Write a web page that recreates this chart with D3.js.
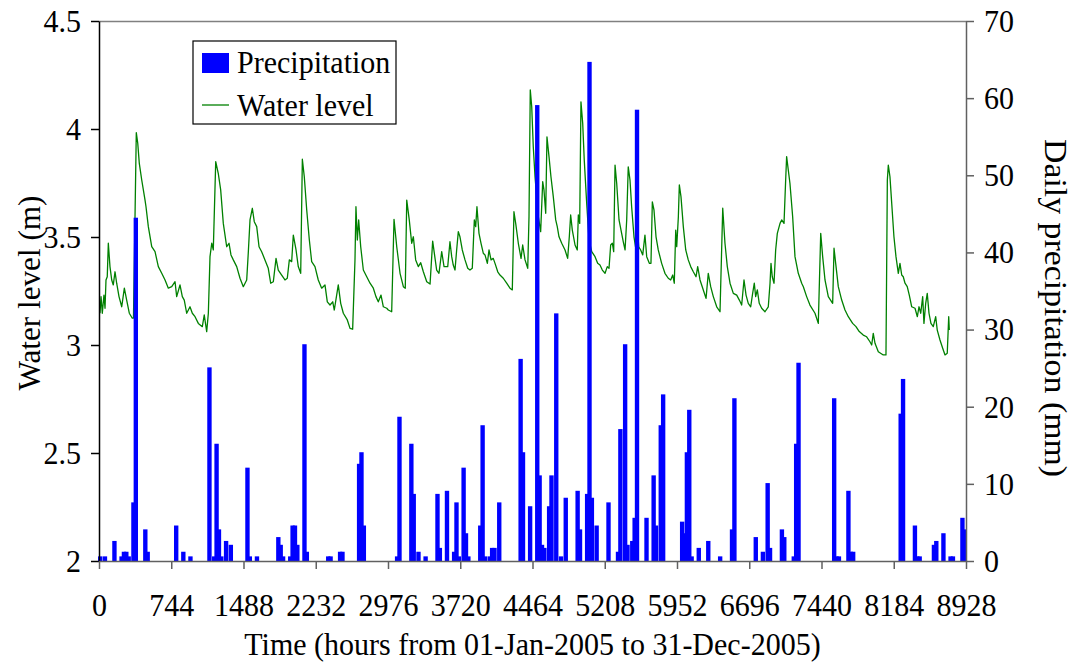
<!DOCTYPE html>
<html>
<head>
<meta charset="utf-8">
<script src="https://cdn.jsdelivr.net/npm/d3@7"></script>
<style>
  body { margin: 0; background: #fff; }
  text { font-family: "Liberation Serif", "Times New Roman", serif; fill: #000; }
</style>
</head>
<body>
<svg id="chart" width="1079" height="664"></svg>
<script>
// Hourly water level (m): sampled vertices of the 2005 record
const hours = [
  10,21,34,51,62,72,85,96,113,131,147,165,182,206,234,261,285,312,343,355,
  384,399,415,440,474,484,508,543,577,611,646,680,714,749,783,800,834,858,878,903,
  937,961,989,1023,1064,1084,1109,1126,1143,1161,1177,1202,1228,1253,1280,1315,1339,1359,1383,1418,
  1452,1486,1521,1537,1555,1579,1599,1624,1648,1675,1709,1743,1768,
  1795,1823,1846,1881,1915,1939,1960,1984,2001,2029,2052,2077,2094,2114,2139,2166,2190,2224,2258,2293,
  2327,2351,2379,2407,2423,2464,2489,2516,2557,2585,2612,2636,2646,2660,2674,2695,2722,2757,2791,2825,
  2852,2876,2904,2928,2963,2979,3014,3038,3066,3100,3134,3154,3169,3195,3220,3237,3261,3288,3313,3340,
  3375,3409,3436,3453,3477,3501,3529,3553,
  3591,3614,3632,3648,3666,3683,3700,3717,3741,3769,3797,3820,3844,3865,3879,3892,3913,3934,3957,3975,
  3999,4016,4037,4060,4078,4106,4129,4163,4198,4232,4256,4273,4291,4318,4346,4363,4387,4415,4428,4441,
  4456,4472,4490,4507,4524,4548,4569,4582,4600,4613,4634,4654,4678,4703,4719,4737,4765,4799,4826,4843,
  4857,4874,4902,4925,4936,4950,4963,4981,4997,5022,5046,5074,5108,5135,5159,5183,5211,5234,5252,5269,
  5286,5300,5314,5331,5355,5382,5399,5417,5434,5450,5468,5485,5509,5530,5543,5558,5578,5599,5622,5640,
  5667,5684,5698,5715,5736,5759,5794,5828,5862,5887,5908,5924,5939,5949,5966,5976,5993,6017,6042,6068,
  6093,6120,6148,6165,6189,6217,6251,6274,6299,6326,6361,6395,6423,6446,6470,6498,6532,6567,6594,6618,
  6642,6663,6686,6711,6731,6748,6762,6779,6799,6824,6858,6892,6910,6920,6933,6951,6968,6985,7013,7030,
  7054,7071,7081,7098,7115,7143,7167,7201,7236,7253,7287,7321,7373,7407,7432,7452,7476,7510,7555,7569,
  7586,7613,7648,7682,7716,7761,7795,7829,7870,7905,7939,7957,7973,7991,8025,8076,8104,8118,8128,8145,
  8163,8186,8207,8231,8248,8266,8282,8300,8323,8344,8369,8403,8427,8444,8462,8482,8495,8513,8529,8547,
  8567,8591,8616,8632,8660,8688,8712,8735,8750,8756
];
const waterLevel = [
  3.147,3.224,3.147,3.231,3.170,3.301,3.316,3.471,3.363,3.301,3.278,3.339,3.286,3.224,3.177,3.263,3.208,3.147,3.124,3.125,
  3.983,3.934,3.841,3.764,3.671,3.640,3.548,3.455,3.432,3.363,3.332,3.301,3.263,3.270,3.293,3.224,3.278,3.224,3.208,3.147,
  3.177,3.147,3.131,3.100,3.085,3.139,3.062,3.147,3.409,3.471,3.440,3.849,3.795,3.718,3.563,3.455,3.471,3.417,3.394,3.363,
  3.309,3.270,3.301,3.425,3.579,3.633,3.571,3.548,3.455,3.432,3.394,3.355,3.286,
  3.293,3.401,3.347,3.324,3.301,3.309,3.394,3.386,3.509,3.440,3.363,3.332,3.860,3.779,3.625,3.486,3.386,3.363,3.301,3.263,
  3.278,3.200,3.185,3.200,3.162,3.278,3.193,3.147,3.116,3.077,3.073,3.394,3.640,3.486,3.579,3.455,3.347,3.316,3.286,3.263,
  3.224,3.200,3.231,3.177,3.170,3.162,3.154,3.582,3.455,3.332,3.270,3.263,3.671,3.579,3.471,3.501,3.394,3.363,3.381,3.339,
  3.293,3.282,3.481,3.425,3.347,3.332,3.432,3.363,
  3.363,3.478,3.409,3.370,3.347,3.440,3.525,3.501,3.440,3.394,3.355,3.347,3.355,3.579,3.548,3.640,3.517,3.471,3.425,3.417,
  3.378,3.440,3.394,3.401,3.378,3.339,3.324,3.309,3.286,3.263,3.255,3.617,3.563,3.471,3.401,3.463,3.394,3.355,3.594,4.181,
  4.103,3.918,3.779,3.687,3.594,3.525,3.756,3.718,3.610,3.964,3.872,3.779,3.687,3.579,3.548,3.501,3.471,3.440,3.401,3.501,
  3.602,3.532,3.463,3.440,3.602,3.563,4.126,4.026,3.856,3.656,3.486,3.432,3.409,3.378,3.370,3.347,3.332,3.363,3.355,3.463,
  3.471,3.432,3.833,3.749,3.579,3.517,3.478,3.440,3.579,3.825,3.764,3.640,3.501,3.440,3.548,3.455,3.440,3.417,3.509,3.409,
  3.378,3.378,3.663,3.625,3.501,3.440,3.378,3.332,3.309,3.301,3.324,3.286,3.532,3.455,3.594,3.741,3.687,3.548,3.440,3.394,
  3.363,3.339,3.316,3.363,3.301,3.263,3.216,3.332,3.270,3.224,3.177,3.154,3.633,3.471,3.363,3.286,3.239,3.231,3.208,3.185,
  3.301,3.231,3.193,3.177,3.239,3.286,3.224,3.255,3.193,3.170,3.154,3.177,3.286,3.378,3.316,3.286,3.440,3.517,3.563,3.579,
  3.563,3.764,3.872,3.810,3.749,3.594,3.409,3.332,3.286,3.270,3.224,3.185,3.147,3.100,3.517,3.409,3.301,3.224,3.193,3.448,
  3.378,3.270,3.208,3.162,3.131,3.100,3.085,3.062,3.046,3.038,3.015,3.000,3.054,3.008,2.969,2.954,2.954,3.764,3.833,3.779,
  3.656,3.501,3.409,3.332,3.378,3.324,3.316,3.286,3.270,3.231,3.177,3.170,3.131,3.177,3.147,3.224,3.100,3.193,3.239,3.147,
  3.100,3.085,3.131,3.069,3.023,2.985,2.954,2.962,3.131,3.069
];

// Daily precipitation (mm): day of year (0-based) and amount, dry days omitted
const rainDay = [
  0,2,6,9,10,11,12,14,15,19,20,32,35,38,46,48,49,50,51,53,55,62,63,66,75,76,77,80,81,82,
  83,86,87,96,97,101,102,109,110,111,125,126,131,132,134,137,142,143,146,149,150,151,153,154,155,160,161,162,164,165,
  166,168,177,178,181,184,185,186,187,189,190,192,194,196,201,202,205,206,207,209,214,218,219,221,222,224,225,226,230,233,
  234,236,237,245,246,247,248,249,252,256,261,266,267,276,279,281,282,287,288,292,293,294,309,310,311,315,316,317,337,338,
  343,344,345,351,352,355,358,359,363,364
];
const rainMm = [
  0.6,0.6,2.6,0.6,1.2,1.2,0.6,7.6,44.5,4.1,1.2,4.6,1.2,0.6,25.1,0.6,15.2,4.1,0.6,2.6,2.1,12.1,0.6,0.6,3.1,2.1,0.6,0.6,4.6,4.6,
  2.1,28.1,1.2,0.6,0.6,1.2,1.2,12.6,14.1,4.6,0.6,18.7,15.2,8.7,1.2,0.6,8.7,1.7,9.1,1.2,7.6,0.6,12.1,3.6,0.6,4.6,17.6,0.6,0.6,1.7,
  1.7,7.6,26.2,14.1,7.1,59.1,11.1,2.1,1.7,7.1,11.1,32.1,0.6,8.2,9.1,4.1,8.7,64.7,8.2,4.6,7.6,1.2,17.1,28.1,2.1,2.6,5.6,58.5,5.6,11.1,
  4.6,17.6,21.6,5.1,3.6,14.1,19.6,0.6,1.7,2.6,0.6,4.1,21.1,3.1,1.2,10.1,1.7,4.1,3.1,0.6,15.2,25.7,21.1,0.6,0.6,9.1,1.2,1.2,19.1,23.6,
  4.6,0.6,0.6,2.1,2.6,3.6,0.6,0.6,5.6,4.1
];
const dayCount = 365;

const hourTicks = [0,744,1488,2232,2976,3720,4464,5208,5952,6696,7440,8184,8928];
const levelTicks = [2,2.5,3,3.5,4,4.5];
const rainTicks = [0,10,20,30,40,50,60,70];

const plot = { left: 99, right: 966, top: 21, bottom: 561 };
const fontSize = 30;       // sets the advance width of the serif text
const glyphStretch = 1.08; // taller, narrower glyphs at the same width

const svg = d3.select("#chart");

const x = d3.scaleLinear().domain([0, 8928]).range([plot.left, plot.right]);
const xDay = d3.scaleBand().domain(d3.range(dayCount)).range([plot.left, plot.right]).padding(0);
const yLevel = d3.scaleLinear().domain([2, 4.5]).range([plot.bottom, plot.top]);
const yRain = d3.scaleLinear().domain([0, 70]).range([plot.bottom, plot.top]);

// water level line (primary axis)
const series = hours.map((h, i) => ({ h, v: waterLevel[i] }));
svg.append("path")
  .datum(series)
  .attr("fill", "none")
  .attr("stroke", "#008000")
  .attr("stroke-width", 1.3)
  .attr("stroke-linejoin", "round")
  .attr("d", d3.line().x(d => x(d.h)).y(d => yLevel(d.v)));

// precipitation columns (secondary axis)
const rain = rainDay.map((d, i) => ({ d, v: rainMm[i] }));
svg.append("g")
  .selectAll("rect")
  .data(rain)
  .join("rect")
  .attr("x", d => xDay(d.d))
  .attr("width", xDay.bandwidth())
  .attr("y", d => yRain(d.v) + 1)
  .attr("height", d => Math.max(0, plot.bottom - yRain(d.v) - 1))
  .attr("fill", "#0000ff")
  .attr("stroke", "#0000ff")
  .attr("stroke-width", 2);

// frame: top edge
svg.append("line")
  .attr("x1", plot.left).attr("x2", plot.right)
  .attr("y1", plot.top + 0.5).attr("y2", plot.top + 0.5)
  .attr("stroke", "#808080").attr("stroke-width", 1.5);

function styleAxis(g, color) {
  g.attr("font-family", null).attr("font-size", null);
  g.select(".domain").attr("stroke", color).attr("stroke-width", 1.5);
  g.selectAll(".tick line").attr("stroke", color).attr("stroke-width", 1.5);
  g.selectAll(".tick text").attr("font-size", fontSize).attr("fill", "#000");
}

// left axis: water level
const gL = svg.append("g")
  .attr("transform", `translate(${plot.left},0)`)
  .call(d3.axisLeft(yLevel).tickValues(levelTicks).tickSize(8).tickPadding(10)
    .tickFormat(d => String(d)).tickSizeOuter(0));
styleAxis(gL, "#000");

// right axis: precipitation
const gR = svg.append("g")
  .attr("transform", `translate(${plot.right},0)`)
  .call(d3.axisRight(yRain).tickValues(rainTicks).tickSize(8).tickPadding(10)
    .tickFormat(d => String(d)).tickSizeOuter(0));
styleAxis(gR, "#606060");

// bottom axis: hours
const gB = svg.append("g")
  .attr("transform", `translate(0,${plot.bottom})`)
  .call(d3.axisBottom(x).tickValues(hourTicks).tickSize(8).tickPadding(24)
    .tickFormat(d => String(d)).tickSizeOuter(0));
styleAxis(gB, "#606060");

// axis titles
svg.append("text")
  .attr("x", (plot.left + plot.right) / 2).attr("y", 655)
  .attr("text-anchor", "middle").attr("font-size", fontSize)
  .text("Time (hours from 01-Jan-2005 to 31-Dec-2005)");

svg.append("text")
  .attr("transform", "translate(40,293) rotate(-90)")
  .attr("text-anchor", "middle").attr("font-size", fontSize)
  .attr("data-length", 195)
  .text("Water level (m)");

svg.append("text")
  .attr("transform", "translate(1045,308) rotate(90)")
  .attr("text-anchor", "middle").attr("font-size", fontSize)
  .attr("data-length", 338)
  .text("Daily precipitation (mm)");

// legend
const lg = svg.append("g").attr("transform", "translate(193,41)");
lg.append("rect").attr("width", 203).attr("height", 83)
  .attr("fill", "#fff").attr("stroke", "#000").attr("stroke-width", 1.2);
lg.append("rect").attr("x", 9).attr("y", 12).attr("width", 27).attr("height", 20)
  .attr("fill", "#0000ff");
lg.append("text").attr("x", 44).attr("y", 32).attr("font-size", fontSize).text("Precipitation");
lg.append("line").attr("x1", 9).attr("x2", 36).attr("y1", 64).attr("y2", 64)
  .attr("stroke", "#008000").attr("stroke-width", 1.3);
lg.append("text").attr("x", 44).attr("y", 75).attr("font-size", fontSize).text("Water level");

// condense every label: keep its width (or a set run length), enlarge the glyph height
svg.selectAll("text").each(function () {
  const set = this.getAttribute("data-length");
  const w = set ? +set : this.getComputedTextLength();
  d3.select(this)
    .attr("font-size", fontSize * glyphStretch)
    .attr("textLength", w.toFixed(2))
    .attr("lengthAdjust", "spacingAndGlyphs");
});
</script>
</body>
</html>
